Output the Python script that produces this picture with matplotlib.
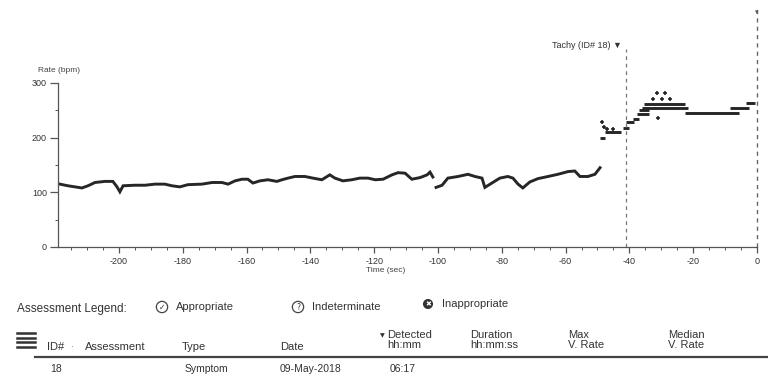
import numpy as np
import matplotlib
matplotlib.use("Agg")
import matplotlib.pyplot as plt
from matplotlib.lines import Line2D

plt.rcParams['font.family'] = ['Liberation Sans', 'DejaVu Sans']

# ---------------- data ----------------
# baseline (sinus) rate trace: time (s) and rate (bpm); NaN marks the short gap
trace_t = [-218.5, -216.0, -213.8, -211.6, -209.7, -207.5, -204.4, -201.9, -200.6, -199.7,
           -198.7, -195.0, -191.8, -188.7, -185.6, -183.4, -180.9, -178.4, -174.0, -170.8,
           -167.7, -165.8, -163.6, -161.4, -159.6, -158.0, -155.8, -153.3, -150.5, -148.9,
           -147.0, -144.8, -141.7, -139.2, -136.4, -133.9, -132.3, -129.8, -127.0, -124.5,
           -121.9, -119.7, -117.2, -114.4, -112.5, -110.3, -108.2, -105.6, -103.4, -102.5,
           -101.6, -101.1, -100.6, -98.7, -96.9, -93.7, -90.6, -88.4, -86.2, -85.3,
           -83.1, -80.6, -78.1, -76.5, -74.9, -73.4, -71.2, -68.7, -65.5, -62.4,
           -59.2, -57.1, -55.5, -53.0, -50.8, -49.2]
trace_rate = [115, 112, 110, 108, 112, 118, 120, 120, 110, 101,
              112, 113, 113, 115, 115, 112, 110, 114, 115, 118,
              118, 115, 121, 124, 124, 117, 121, 123, 120, 123,
              126, 129, 129, 126, 123, 132, 126, 121, 123, 126,
              126, 123, 124, 132, 136, 135, 124, 127, 132, 137,
              128, np.nan, 109, 113, 126, 129, 133, 129, 126, 109,
              117, 126, 129, 126, 115, 108, 119, 125, 129, 133,
              138, 139, 129, 129, 133, 145]

# tachy episode beat bands: start time, end time, rate
band_start = [-49.2, -47.5, -42.0, -41.0, -39.0, -37.5, -37.0, -35.5, -36.0, -22.5, -8.5, -3.5]
band_end   = [-47.5, -42.5, -40.0, -38.5, -37.0, -34.0, -34.0, -22.5, -21.5, -5.5, -2.5, -0.5]
band_rate  = [200, 210, 218, 228, 235, 243, 250, 262, 254, 246, 254, 264]

# isolated beats during the episode
beat_t    = [-48.5, -48.0, -47.0, -45.0, -32.6, -29.8, -27.3, -31.3, -28.8, -31.0]
beat_rate = [228, 220, 216, 216, 271, 271, 271, 282, 282, 236]

onset_t = -41.1
episode_label = "Tachy (ID# 18) \u25BC"

xticks = [-200, -180, -160, -140, -120, -100, -80, -60, -40, -20, 0]
yticks = [0, 100, 200, 300]

legend_items = ["Appropriate", "Indeterminate", "Inappropriate"]
headers = ["ID#", "Assessment", "Type", "Date", "Detected\nhh:mm",
           "Duration\nhh:mm:ss", "Max\nV. Rate", "Median\nV. Rate"]
row = ["18", "", "Symptom", "09-May-2018", "06:17"]

# ---------------- figure ----------------
W, H = 768, 377
fig = plt.figure(figsize=(W / 100, H / 100), dpi=100)
fig.patch.set_facecolor('white')

def fx(px):
    return px / W

def fy(py):
    return 1 - py / H

ax = fig.add_axes([fx(58), fy(247), fx(757) - fx(58), fy(83) - fy(247)])
ax.set_xlim(-219.1, 0)
ax.set_ylim(0, 300)

ink = '#262626'
grey = '#555555'

ax.plot(trace_t, trace_rate, color=ink, lw=2.1, solid_joinstyle='miter')
ax.hlines(band_rate, band_start, band_end, color=ink, lw=2.1)
ax.plot(beat_t, beat_rate, ls='none', marker='+', ms=3, mew=1.2, color=ink)

# dashed event lines (extend above axes)
ax.plot([onset_t, onset_t], [0, 362], ls=(0, (3, 3)), color='#777777', lw=0.9, clip_on=False)
ax.plot([0, 0], [0, 440], ls=(0, (3, 3)), color='#666666', lw=1.0, clip_on=False)
ax.text(onset_t - 1.2, 368, episode_label, ha='right', va='center', fontsize=6.5,
        color='#333333', clip_on=False)
ax.text(0, 428, "\u25BE", ha='center', va='center', fontsize=5, color='#555555', clip_on=False)

for s in ['top', 'right']:
    ax.spines[s].set_visible(False)
for s in ['left', 'bottom']:
    ax.spines[s].set_color(grey)
    ax.spines[s].set_linewidth(0.9)

ax.set_xticks(xticks)
ax.set_xticklabels([str(v) for v in xticks])
ax.set_xticks(np.arange(-215, 0, 5), minor=True)
ax.set_yticks(yticks)
ax.set_yticklabels([str(v) for v in yticks])
ax.set_yticks([50, 150, 250], minor=True)
ax.tick_params(axis='x', which='major', direction='out', length=4, width=0.9,
               color=grey, labelsize=6.5, labelcolor='#333333', pad=3)
ax.tick_params(axis='x', which='minor', direction='out', length=2, width=0.7, color=grey)
ax.tick_params(axis='y', which='major', direction='out', length=6, width=0.9,
               color=grey, labelsize=6.5, labelcolor='#333333', pad=2)
ax.tick_params(axis='y', which='minor', direction='out', length=2, width=0.7, color=grey)

fig.text(fx(38), fy(70), "Rate (bpm)", fontsize=6, color='#444444', ha='left', va='center')
fig.text(fx(386), fy(271), "Time (sec)", fontsize=6, color='#444444', ha='center', va='center')

# ---------------- legend row ----------------
txt = '#333333'
fig.text(fx(17), fy(309), "Assessment Legend:", fontsize=8.5, color=txt, ha='left', va='center')
icon_x = [162, 298, 428]
text_x = [176, 312, 442]
icon_sym = ["\u2713", "?", "\u2716"]
for i, (lab, ix, tx, sym) in enumerate(zip(legend_items, icon_x, text_x, icon_sym)):
    yy = 307 if i < 2 else 304
    if i < 2:
        fig.text(fx(ix), fy(yy), sym, fontsize=5.5, color=txt, ha='center', va='center',
                 family=['DejaVu Sans'],
                 bbox=dict(boxstyle='circle,pad=0.15', fc='white', ec='#444444', lw=0.9))
    else:
        fig.text(fx(ix), fy(yy), sym, fontsize=5, color='white', ha='center', va='center',
                 family=['DejaVu Sans'],
                 bbox=dict(boxstyle='circle,pad=0.2', fc='#333333', ec='#333333', lw=0.9))
    fig.text(fx(tx), fy(yy), lab, fontsize=8, color=txt, ha='left', va='center')

# ---------------- table header ----------------
for yy in [333, 337.5, 342, 346.5]:
    fig.add_artist(Line2D([fx(17), fx(35)], [fy(yy), fy(yy)], color='#333333', lw=1.8))
hdr_x = [47, 85, 182, 280, 387, 470, 568, 668]
for h, hx in zip(headers, hdr_x):
    if "\n" in h:
        fig.text(fx(hx), fy(340), h, fontsize=8, color=txt, ha='left', va='center',
                 linespacing=0.95)
    else:
        fig.text(fx(hx), fy(347), h, fontsize=8, color=txt, ha='left', va='center')
fig.text(fx(382), fy(336), "\u25BC", fontsize=4.5, color=txt, ha='center', va='center',
         family=['DejaVu Sans'])
fig.text(fx(72), fy(347), "\u00B7", fontsize=7, color='#777777', ha='center', va='center')
fig.add_artist(Line2D([fx(35), fx(768)], [fy(357), fy(357)], color='#444444', lw=1.6))

# first row
row_x = [50, 110, 185, 280, 390]
for v, rx in zip(row, row_x):
    if v:
        fig.text(fx(rx), fy(368.5), v, fontsize=7.5, color=txt, ha='left', va='center')

fig.savefig("out.png", dpi=100, facecolor='white')
